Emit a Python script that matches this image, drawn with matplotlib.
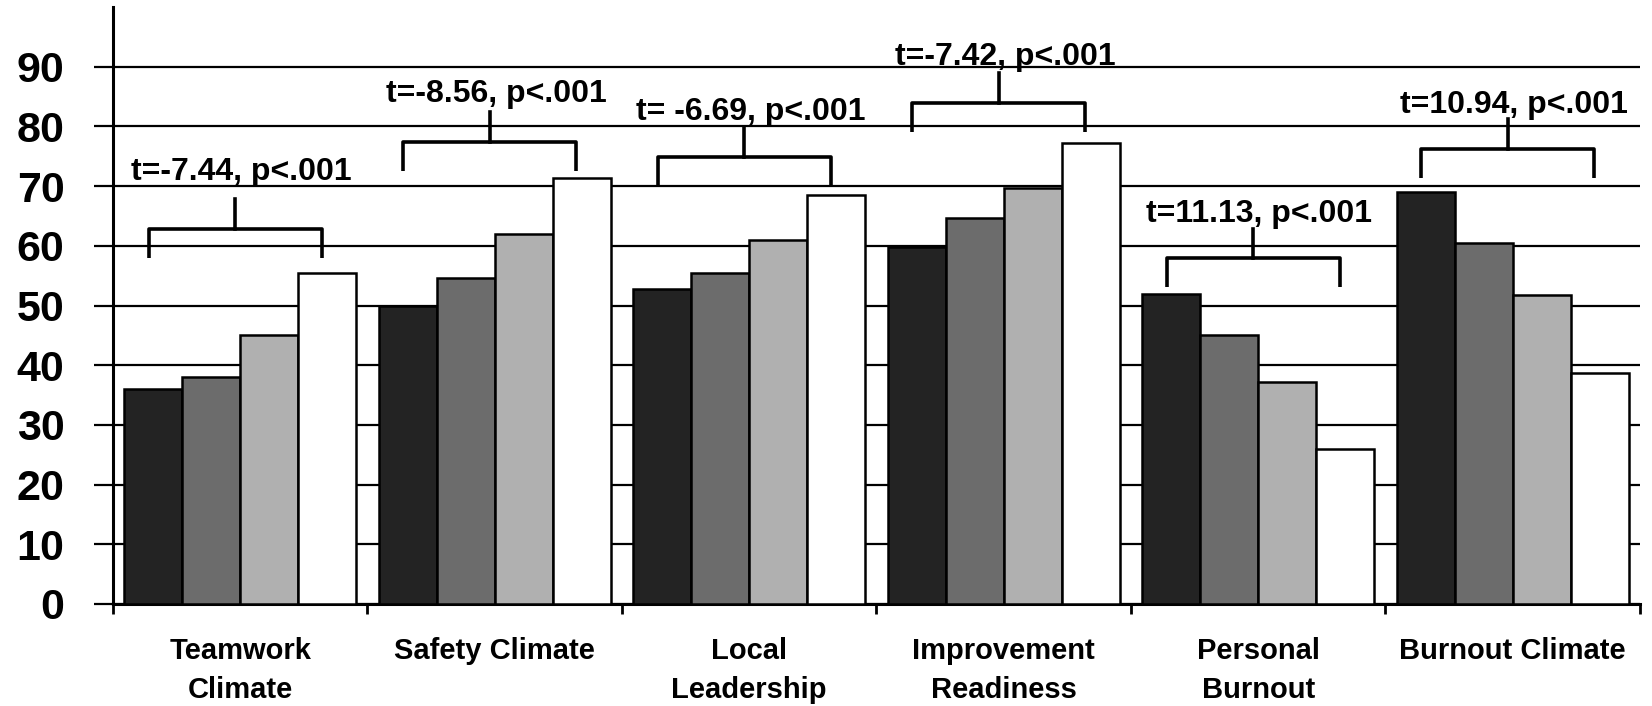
import matplotlib.pyplot as plt
import numpy as np

plt.rcParams['font.family'] = ['Liberation Sans', 'DejaVu Sans']

categories = ["Teamwork\nClimate", "Safety Climate", "Local\nLeadership",
              "Improvement\nReadiness", "Personal\nBurnout", "Burnout Climate"]

# four groups per category, darkest bar first
group1 = [36.0, 49.9, 52.8, 59.8, 51.9, 69.0]
group2 = [38.1, 54.6, 55.4, 64.6, 45.0, 60.4]
group3 = [45.0, 62.0, 61.0, 69.7, 37.2, 51.8]
group4 = [55.4, 71.3, 68.5, 77.2, 26.0, 38.7]

stats = ["t=-7.44, p<.001", "t=-8.56, p<.001", "t= -6.69, p<.001",
         "t=-7.42, p<.001", "t=11.13, p<.001", "t=10.94, p<.001"]

# bracket top and text baseline (y units) for each comparison
bracket_top = [62.8, 77.4, 74.9, 83.9, 57.9, 76.2]
text_base = [71.0, 84.1, 81.1, 90.3, 64.0, 82.2]

colors = ["#232323", "#6c6c6c", "#b0b0b0", "#ffffff"]

fig = plt.figure(figsize=(16.52, 7.06), dpi=100)
ax = fig.add_axes([0.0684, 0.1445, 0.9243, 0.8455])

x = np.arange(len(categories))
w = 0.228
for k, (vals, col) in enumerate(zip([group1, group2, group3, group4], colors)):
    ax.bar(x + (k - 1.5) * w, vals, w, color=col, edgecolor="black",
           linewidth=1.8, zorder=3)

# significance brackets
for i in range(len(categories)):
    left, right = i - 0.36, i + 0.32
    mid = i - 0.02
    top = bracket_top[i]
    ax.plot([left, left, right, right], [top - 4.8, top, top, top - 4.8],
            color="black", lw=2.6, zorder=4, solid_capstyle="butt")
    ax.plot([mid, mid], [top, top + 5.0], color="black", lw=2.6, zorder=4)
    ax.text(mid + 0.025, text_base[i], stats[i], ha="center", va="baseline",
            fontsize=23, fontweight="bold", zorder=5)

ax.set_xlim(-0.5, 5.5)
ax.set_ylim(0, 100)
ax.set_yticks(range(0, 100, 10))
ax.yaxis.grid(True, color="black", linewidth=1.6)
ax.set_axisbelow(True)

ax.set_xticks(x)
ax.set_xticklabels(categories, fontsize=21, fontweight="bold", linespacing=1.5)
ax.set_xticks(np.arange(-0.5, 6, 1), minor=True)
ax.tick_params(axis="x", which="major", length=0, pad=24)
ax.tick_params(axis="x", which="minor", length=7, width=2, direction="out")
ax.tick_params(axis="y", length=14, width=1.6, direction="out", pad=21,
               labelsize=31)
for lab in ax.get_yticklabels():
    lab.set_fontweight("bold")

for s in ["top", "right"]:
    ax.spines[s].set_visible(False)
for s in ["left", "bottom"]:
    ax.spines[s].set_linewidth(2.2)

fig.savefig("out.png", dpi=100)
